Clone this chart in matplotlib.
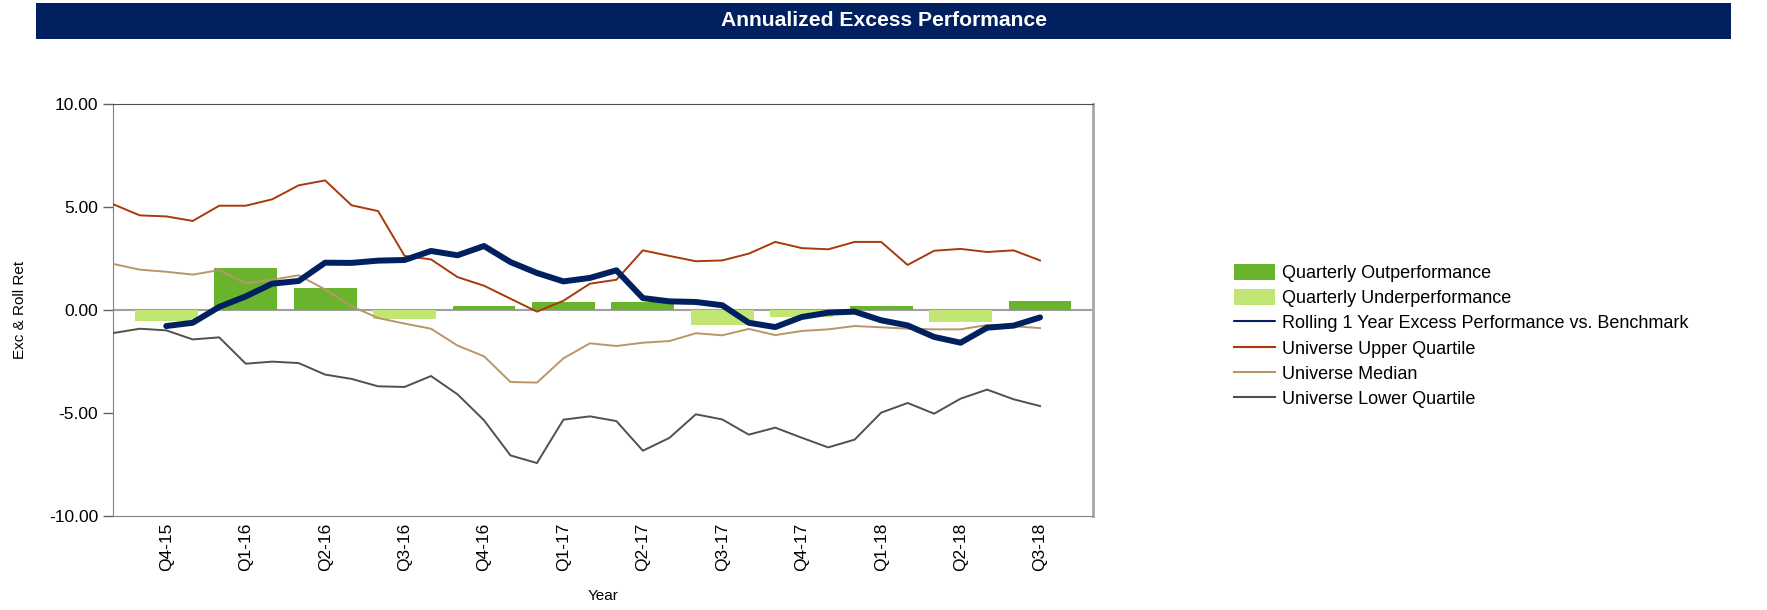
import numpy as np
import matplotlib
matplotlib.use("Agg")
import matplotlib.pyplot as plt
from matplotlib.patches import Rectangle

plt.rcParams['font.family'] = ['Liberation Sans', 'DejaVu Sans']

# quarterly labels and excess returns (bars)
quarters = ['Q4-15', 'Q1-16', 'Q2-16', 'Q3-16', 'Q4-16', 'Q1-17',
            'Q2-17', 'Q3-17', 'Q4-17', 'Q1-18', 'Q2-18', 'Q3-18']
quarterly_excess = [-0.52, 2.06, 1.05, -0.45, 0.18, 0.41,
                    0.39, -0.73, -0.34, 0.18, -0.58, 0.44]

# monthly series, Oct-15 .. Sep-18
rolling_1y = [np.nan, np.nan, -0.78, -0.62, 0.15, 0.66, 1.28, 1.41, 2.30, 2.29,
              2.40, 2.43, 2.87, 2.66, 3.11, 2.33, 1.80, 1.39, 1.56, 1.93,
              0.58, 0.42, 0.39, 0.23, -0.62, -0.83, -0.34, -0.13, -0.08, -0.50,
              -0.75, -1.31, -1.59, -0.86, -0.76, -0.36]
upper_q = [5.14, 4.60, 4.55, 4.33, 5.07, 5.07, 5.38, 6.06, 6.30, 5.09,
           4.81, 2.63, 2.46, 1.60, 1.18, 0.55, -0.08, 0.45, 1.28, 1.47,
           2.90, 2.63, 2.37, 2.41, 2.74, 3.31, 3.01, 2.95, 3.31, 3.31,
           2.19, 2.88, 2.97, 2.82, 2.90, 2.41]
median = [2.24, 1.96, 1.86, 1.72, 1.94, 1.30, 1.47, 1.69, 1.00, 0.18,
          -0.39, -0.66, -0.91, -1.73, -2.25, -3.50, -3.53, -2.35, -1.62, -1.75,
          -1.59, -1.51, -1.13, -1.23, -0.92, -1.22, -1.02, -0.94, -0.78, -0.84,
          -0.91, -0.94, -0.94, -0.73, -0.79, -0.88]
lower_q = [-1.12, -0.91, -0.99, -1.43, -1.33, -2.61, -2.51, -2.58, -3.14, -3.35,
           -3.71, -3.74, -3.21, -4.10, -5.36, -7.07, -7.44, -5.33, -5.17, -5.40,
           -6.84, -6.22, -5.07, -5.32, -6.06, -5.72, -6.21, -6.68, -6.30, -4.99,
           -4.52, -5.04, -4.31, -3.87, -4.34, -4.67]

months = np.arange(len(upper_q))
qpos = np.arange(len(quarters)) * 3 + 2
qvals = np.array(quarterly_excess)

fig = plt.figure(figsize=(17.67, 6.10), dpi=100)

# title banner
fig.patches.append(Rectangle((0.0204, 0.9354), 0.9592, 0.059, transform=fig.transFigure,
                             facecolor='#002060', edgecolor='none'))
fig.text(0.5, 0.966, 'Annualized Excess Performance', color='white', fontsize=15.2,
         fontweight='bold', ha='center', va='center')

ax = fig.add_axes([113.3 / 1767, 1 - 515.7 / 610, (1093 - 113.3) / 1767, (515.7 - 104.3) / 610])

ax.axhline(0, color='#a0a0a0', lw=1.5, zorder=1)
pos = qvals > 0
b_out = ax.bar(qpos[pos], qvals[pos], width=2.37, color='#6ab42d', zorder=2)
b_under = ax.bar(qpos[~pos], qvals[~pos], width=2.37, color='#c1e673', zorder=2)
l_roll, = ax.plot(months, rolling_1y, color='#002060', lw=4.3, solid_capstyle='round', zorder=5)
l_up, = ax.plot(months, upper_q, color='#a83a0a', lw=1.4, zorder=4)
l_med, = ax.plot(months, median, color='#b8966a', lw=1.4, zorder=4)
l_low, = ax.plot(months, lower_q, color='#505050', lw=1.4, zorder=4)

ax.set_xlim(0, 37)
ax.set_ylim(-10, 10)
ax.set_yticks([-10, -5, 0, 5, 10])
ax.set_yticklabels(['-10.00', '-5.00', '0.00', '5.00', '10.00'], fontsize=12.5)
ax.tick_params(axis='y', length=7, width=1, color='#606060', pad=4)
ax.set_xticks(qpos)
ax.set_xticklabels(quarters, rotation=90, fontsize=12.5)
ax.tick_params(axis='x', length=0, pad=5)

ax.spines['top'].set_color('#505050')
ax.spines['left'].set_color('#808080')
ax.spines['bottom'].set_color('#808080')
ax.spines['right'].set_color('#a8a8a8')
ax.spines['right'].set_linewidth(2)

fig.text(20 / 1767, 1 - 309.7 / 610, 'Exc & Roll Ret', rotation=90, fontsize=11,
         ha='center', va='center')
fig.text(603 / 1767, 1 - 596 / 610, 'Year', fontsize=11, ha='center', va='center')

handles = [b_out, b_under, l_roll, l_up, l_med, l_low]
labels = ['Quarterly Outperformance', 'Quarterly Underperformance',
          'Rolling 1 Year Excess Performance vs. Benchmark',
          'Universe Upper Quartile', 'Universe Median', 'Universe Lower Quartile']
leg = fig.legend(handles, labels, loc='upper left', bbox_to_anchor=(1234 / 1767, 1 - 263.5 / 610),
                 frameon=False, fontsize=13, handlelength=2.25, handleheight=1.0,
                 handletextpad=0.4, labelspacing=0.39, borderpad=0, borderaxespad=0)
for h in leg.legend_handles[2:]:
    h.set_linewidth(1.5)

fig.savefig('out.png', dpi=100)
